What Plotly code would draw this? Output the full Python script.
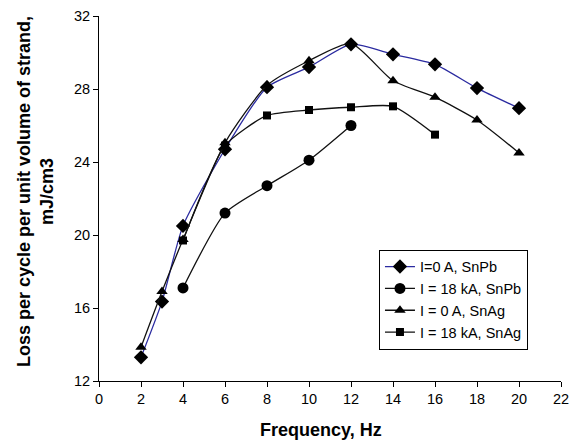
import plotly.graph_objects as go

freq_a = [2, 3, 4, 6, 8, 10, 12, 14, 16, 18, 20]
snpb_0 = [13.3, 16.35, 20.5, 24.7, 28.1, 29.2, 30.45, 29.9, 29.35, 28.05, 26.95]

freq_b = [4, 6, 8, 10, 12]
snpb_18 = [17.1, 21.2, 22.7, 24.1, 26.0]

freq_c = [2, 3, 4, 6, 8, 10, 12, 14, 16, 18, 20]
snag_0 = [13.85, 16.9, 19.75, 25.05, 28.2, 29.55, 30.5, 28.45, 27.55, 26.3, 24.5]

freq_d = [4, 6, 8, 10, 12, 14, 16]
snag_18 = [19.7, 24.9, 26.55, 26.85, 27.0, 27.05, 25.5]

names = ["I=0 A, SnPb", "I = 18 kA, SnPb", "I = 0 A, SnAg", "I = 18 kA, SnAg"]
x_title = "<b>Frequency, Hz</b>"
y_title = "<b>Loss per cycle per unit volume of strand,<br>mJ/cm3</b>"

fig = go.Figure()
series = [
    (freq_a, snpb_0, names[0], "diamond", 11, "#2b2ba0"),
    (freq_b, snpb_18, names[1], "circle", 11, "#111111"),
    (freq_c, snag_0, names[2], "triangle-up", 10, "#111111"),
    (freq_d, snag_18, names[3], "square", 8, "#111111"),
]
for xs, ys, nm, sym, sz, lc in series:
    fig.add_trace(go.Scatter(
        x=xs, y=ys, name=nm, mode="lines+markers",
        line=dict(color=lc, width=1.3, shape="spline", smoothing=0.6),
        marker=dict(symbol=sym, size=sz, color="black"),
    ))

font_family = "Liberation Sans, Arial, sans-serif"
# page body has an 8px default margin, so the figure is sized/offset for it
fig.update_layout(
    width=571, height=435,
    margin=dict(l=91, r=18, t=8, b=62),
    paper_bgcolor="white", plot_bgcolor="white",
    font=dict(family=font_family, size=14.5, color="black"),
    xaxis=dict(
        range=[0, 22], tickmode="array", tickvals=list(range(0, 23, 2)),
        showline=True, linecolor="black", linewidth=1,
        ticks="outside", ticklen=5, tickcolor="black",
        showgrid=False, zeroline=False, automargin=False,
    ),
    yaxis=dict(
        range=[12, 32], tickmode="array", tickvals=[12, 16, 20, 24, 28, 32],
        showline=True, linecolor="black", linewidth=1,
        ticks="outside", ticklen=5, tickcolor="black",
        showgrid=False, zeroline=False, automargin=False,
    ),
    legend=dict(
        x=0.606, y=0.36, xanchor="left", yanchor="top",
        bordercolor="black", borderwidth=1, bgcolor="white",
        font=dict(size=14.5), tracegroupgap=5,
    ),
    showlegend=True,
    annotations=[
        dict(text=x_title, xref="paper", yref="paper", x=0.4795, y=-0.134,
             xanchor="center", yanchor="middle", showarrow=False,
             font=dict(size=18)),
        dict(text=y_title, xref="paper", yref="paper", x=-0.1374, y=0.519,
             xanchor="center", yanchor="middle", showarrow=False,
             textangle=-90, font=dict(size=18)),
    ],
)

fig.write_html("out.html")
